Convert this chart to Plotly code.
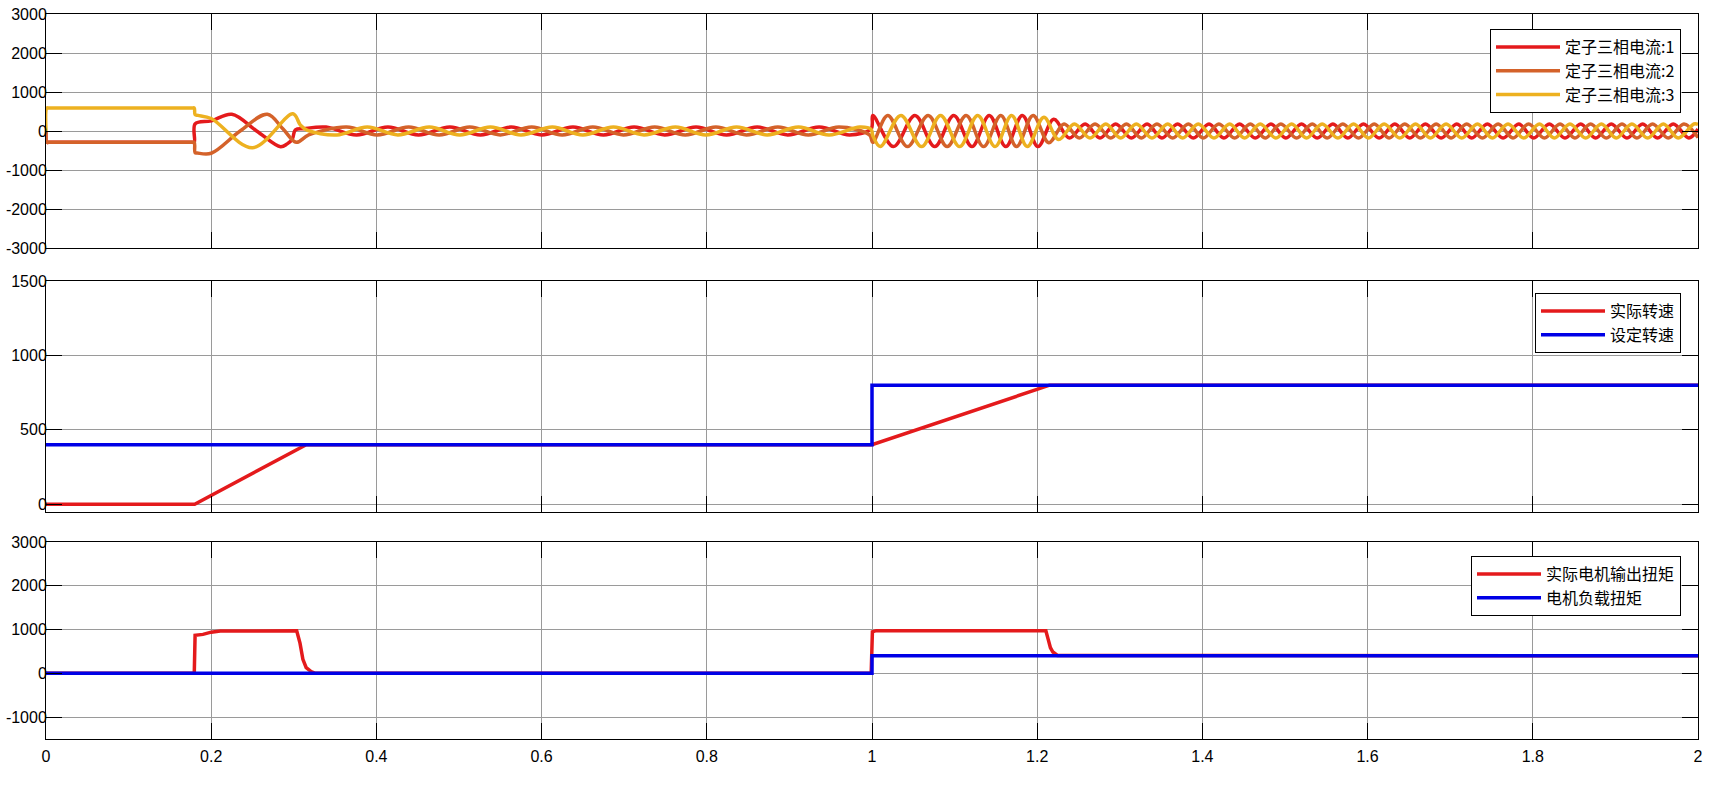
import plotly.graph_objects as go

# ---------------- data ----------------
# Stator three-phase currents (extrema / key points)
t_ia = [0, 0.001, 0.003, 0.09, 0.177, 0.1795, 0.1805, 0.200, 0.225, 0.255, 0.284, 0.292, 0.298,
        0.302, 0.312,
        0.339, 0.376, 0.414, 0.451, 0.489, 0.526, 0.563, 0.600, 0.638, 0.675, 0.712, 0.749,
        0.787, 0.824, 0.861, 0.898, 0.936, 0.973, 0.999,
        1.001, 1.026, 1.052, 1.076, 1.099, 1.121, 1.142, 1.162, 1.182, 1.201, 1.220,
        1.239, 1.258, 1.276, 1.295, 1.314, 1.333, 1.351, 1.370, 1.389, 1.408, 1.426, 1.445,
        1.464, 1.483, 1.501, 1.520, 1.539, 1.558, 1.576, 1.595, 1.614, 1.633, 1.651, 1.670,
        1.689, 1.708, 1.726, 1.745, 1.764, 1.783, 1.801, 1.820, 1.839, 1.858, 1.876, 1.895,
        1.914, 1.933, 1.951, 1.970, 1.989, 2.000]
ia = [0, -290, -290, -290, -290, -290, 180, 260, 430, 0, -405, -330, -220,
      30, 60,
      100, -100, 100, -100, 100, -100, 100, -100, 100, -100, 100, -100,
      100, -100, 100, -100, 100, -100, 60,
      400, -400, 400, -400, 400, -400, 400, -400, 400, -400, 300,
      -180, 180, -180, 180, -180, 180, -180, 180, -180, 180, -180, 180,
      -180, 180, -180, 180, -180, 180, -180, 180, -180, 180, -180, 180,
      -180, 180, -180, 180, -180, 180, -180, 180, -180, 180, -180, 180,
      -180, 180, -180, 180, -180, 50]

t_ib = [0, 0.001, 0.003, 0.09, 0.177, 0.1795, 0.1805, 0.183, 0.200, 0.235, 0.268, 0.287, 0.303,
        0.318,
        0.364, 0.401, 0.439, 0.476, 0.513, 0.550, 0.588, 0.625, 0.662, 0.699, 0.737,
        0.774, 0.811, 0.848, 0.886, 0.923, 0.960, 0.997,
        1.001, 1.019, 1.043, 1.068, 1.091, 1.114, 1.135, 1.156, 1.175, 1.195, 1.214,
        1.2325, 1.251, 1.270, 1.289, 1.308, 1.326, 1.345, 1.364, 1.383, 1.401, 1.420,
        1.439, 1.458, 1.476, 1.495, 1.514, 1.533, 1.551, 1.570, 1.589, 1.608, 1.626,
        1.645, 1.664, 1.683, 1.701, 1.720, 1.739, 1.758, 1.776, 1.795, 1.814, 1.833,
        1.851, 1.870, 1.889, 1.908, 1.926, 1.945, 1.964, 1.983, 2.000]
ib = [0, -290, -290, -290, -290, -290, -560, -565, -570, 0, 430, 50, -290,
      -100,
      100, -100, 100, -100, 100, -100, 100, -100, 100, -100, 100,
      -100, 100, -100, 100, -100, 100, -100,
      -290, 400, -400, 400, -400, 400, -400, 400, -400, 400, -300,
      180, -180, 180, -180, 180, -180, 180, -180, 180, -180, 180,
      -180, 180, -180, 180, -180, 180, -180, 180, -180, 180, -180,
      180, -180, 180, -180, 180, -180, 180, -180, 180, -180, 180,
      -180, 180, -180, 180, -180, 180, -180, 180, -170]

t_ic = [0, 0.001, 0.003, 0.09, 0.177, 0.1795, 0.1805, 0.184, 0.200, 0.250, 0.299, 0.308, 0.316,
        0.352, 0.389, 0.426, 0.464, 0.501, 0.538, 0.575, 0.613, 0.650, 0.687, 0.724,
        0.762, 0.799, 0.836, 0.873, 0.911, 0.948, 0.985, 0.999,
        1.001, 1.010, 1.035, 1.060, 1.083, 1.106, 1.128, 1.149, 1.169, 1.188, 1.208,
        1.226, 1.245, 1.264, 1.283, 1.301, 1.320, 1.339, 1.358, 1.376, 1.395, 1.414,
        1.433, 1.451, 1.470, 1.489, 1.508, 1.526, 1.545, 1.564, 1.583, 1.601, 1.620,
        1.639, 1.658, 1.676, 1.695, 1.714, 1.733, 1.751, 1.770, 1.789, 1.808, 1.826,
        1.845, 1.864, 1.883, 1.901, 1.920, 1.939, 1.958, 1.976, 1.995, 2.000]
ic = [0, 590, 590, 590, 590, 590, 420, 400, 320, -430, 440, 150, 20,
      -100, 100, -100, 100, -100, 100, -100, 100, -100, 100, -100,
      100, -100, 100, -100, 100, -100, 100, 40,
      -120, -400, 400, -400, 400, -400, 400, -400, 400, -400, 350,
      -220, 180, -180, 180, -180, 180, -180, 180, -180, 180, -180,
      180, -180, 180, -180, 180, -180, 180, -180, 180, -180, 180,
      -180, 180, -180, 180, -180, 180, -180, 180, -180, 180, -180,
      180, -180, 180, -180, 180, -180, 180, -180, 180, 170]

# Speed
t_speed_act = [0, 0.180, 0.315, 1.000, 1.215, 2.000]
speed_act = [0, 0, 400, 400, 800, 800]
t_speed_ref = [0, 1.000, 1.000, 2.000]
speed_ref = [400, 400, 800, 800]

# Torque
t_tq_act = [0, 0.1795, 0.1805, 0.190, 0.200, 0.211, 0.3035, 0.3075, 0.311, 0.315, 0.321, 0.326,
            0.999, 1.0005, 1.005, 1.2088, 1.2105, 1.2133, 1.216, 1.219, 1.222, 1.2245, 2.000]
tq_act = [0, 0, 870, 890, 940, 968, 970, 690, 320, 130, 40, 0,
          0, 950, 975, 975, 970, 775, 585, 487, 433, 410, 400]
t_tq_load = [0, 1.000, 1.000, 2.000]
tq_load = [0, 0, 400, 400]

# Labels / ticks
names_cur = ["定子三相电流:1", "定子三相电流:2", "定子三相电流:3"]
names_speed = ["实际转速", "设定转速"]
names_tq = ["实际电机输出扭矩", "电机负载扭矩"]
x_ticks = [0, 0.2, 0.4, 0.6, 0.8, 1.0, 1.2, 1.4, 1.6, 1.8, 2.0]
x_ticktext = ["0", "0.2", "0.4", "0.6", "0.8", "1", "1.2", "1.4", "1.6", "1.8", "2"]
y1_ticks = [-3000, -2000, -1000, 0, 1000, 2000, 3000]
y1_ticktext = ["-3000", "-2000", "-1000", "0", "1000", "2000", "3000"]
y2_ticks = [0, 500, 1000, 1500]
y2_ticktext = ["0", "500", "1000", "1500"]
y3_ticks = [-1000, 0, 1000, 2000, 3000]
y3_ticktext = ["-1000", "0", "1000", "2000", "3000"]

# ---------------- styling ----------------
RED = "#E41A1C"
ORANGE = "#D4622A"
YELLOW = "#EDB120"
BLUE = "#0000E6"
LW = 3.5

fig = go.Figure()
for t, v, c, n in [(t_ia, ia, RED, names_cur[0]), (t_ib, ib, ORANGE, names_cur[1]),
                   (t_ic, ic, YELLOW, names_cur[2])]:
    fig.add_trace(go.Scatter(x=t, y=v, mode="lines", name=n, xaxis="x", yaxis="y",
                             line=dict(color=c, width=LW, shape="spline", smoothing=1.0),
                             legend="legend"))

fig.add_trace(go.Scatter(x=t_speed_act, y=speed_act, mode="lines", name=names_speed[0],
                         xaxis="x2", yaxis="y2", line=dict(color=RED, width=LW), legend="legend2"))
fig.add_trace(go.Scatter(x=t_speed_ref, y=speed_ref, mode="lines", name=names_speed[1],
                         xaxis="x2", yaxis="y2", line=dict(color=BLUE, width=LW), legend="legend2"))

fig.add_trace(go.Scatter(x=t_tq_act, y=tq_act, mode="lines", name=names_tq[0],
                         xaxis="x3", yaxis="y3", line=dict(color=RED, width=LW), legend="legend3"))
fig.add_trace(go.Scatter(x=t_tq_load, y=tq_load, mode="lines", name=names_tq[1],
                         xaxis="x3", yaxis="y3", line=dict(color=BLUE, width=LW), legend="legend3"))

W, H = 1719, 794
ML, MR, MT, MB = 46, 21, 14, 55
ph = H - MT - MB
pw = W - ML - MR


def ypaper(screen_px):
    return (H - MB - screen_px) / ph


def ydom(top_px, bot_px):
    return [ypaper(bot_px), ypaper(top_px)]


FONT = "Liberation Sans, Arial, sans-serif"
common_x = dict(range=[0, 2], tickvals=x_ticks, ticktext=x_ticktext, ticks="inside", ticklen=16,
                tickcolor="black", tickwidth=1, showline=True, linecolor="black", linewidth=1,
                mirror="ticks", showgrid=True, gridcolor="#9a9a9a", gridwidth=1, zeroline=False,
                automargin=False, tickfont=dict(family=FONT, size=16, color="black"))
common_y = dict(ticks="inside", ticklen=16, tickcolor="black", tickwidth=1, showline=True,
                linecolor="black", linewidth=1, mirror="ticks", showgrid=True, gridcolor="#9a9a9a",
                gridwidth=1, zeroline=False, automargin=False, ticklabelstandoff=-5,
                tickfont=dict(family=FONT, size=16, color="black"))

leg_common = dict(bgcolor="white", bordercolor="black", borderwidth=1, xanchor="right", yanchor="top",
                  x=(1681 - ML) / pw, itemwidth=64, tracegroupgap=0,
                  font=dict(family="Noto Sans CJK SC, Liberation Sans, sans-serif", size=16,
                            color="black"))

fig.update_layout(
    width=W, height=H, autosize=False,
    margin=dict(l=ML, r=MR, t=MT, b=MB, autoexpand=False),
    paper_bgcolor="white", plot_bgcolor="white",
    font=dict(family=FONT, size=16, color="black"),
    xaxis=dict(domain=[0, 1], anchor="y", showticklabels=False, **common_x),
    yaxis=dict(domain=ydom(14, 248), anchor="x", range=[-3000, 3000], tickvals=y1_ticks,
               ticktext=y1_ticktext, **common_y),
    xaxis2=dict(domain=[0, 1], anchor="y2", showticklabels=False, **common_x),
    yaxis2=dict(domain=ydom(281, 512), anchor="x2", range=[-52, 1500], tickvals=y2_ticks,
                ticktext=y2_ticktext, **common_y),
    xaxis3=dict(domain=[0, 1], anchor="y3", showticklabels=True, ticklabelstandoff=3, **common_x),
    yaxis3=dict(domain=ydom(542, 739), anchor="x3", range=[-1500, 3000], tickvals=y3_ticks,
                ticktext=y3_ticktext, **common_y),
    legend=dict(y=ypaper(29), **leg_common),
    legend2=dict(y=ypaper(293), **leg_common),
    legend3=dict(y=ypaper(556), **leg_common),
)

fig.write_html("out.html", config={"displayModeBar": False},
               post_script="document.body.style.margin='0px';document.body.style.overflow='hidden';")
